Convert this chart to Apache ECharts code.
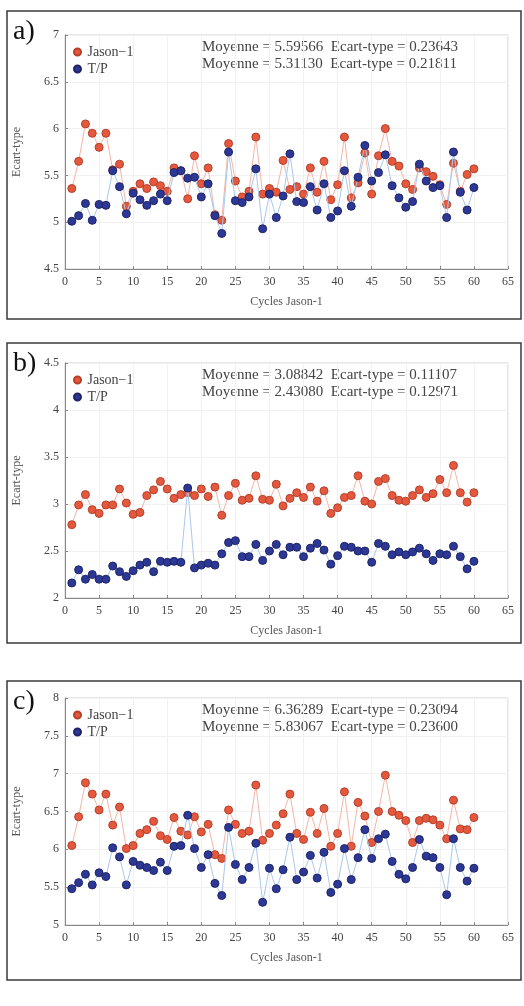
<!DOCTYPE html>
<html>
<head>
<meta charset="utf-8">
<script src="https://cdn.jsdelivr.net/npm/echarts@6/dist/echarts.min.js"></script>
<style>
html,body{margin:0;padding:0;background:#fff;}
#c{width:524px;height:1006px;}
</style>
</head>
<body>
<div id="c"></div>
<script>
var cycles = [1,2,3,4,5,6,7,8,9,10,11,12,13,14,15,16,17,18,19,20,21,22,23,24,25,26,27,28,29,30,31,32,33,34,35,36,37,38,39,40,41,42,43,44,45,46,47,48,49,50,51,52,53,54,55,56,57,58,59,60];
var xTicks = [0,5,10,15,20,25,30,35,40,45,50,55,60,65];

// Panel a
var jasonA = [5.36,5.65,6.05,5.95,5.80,5.95,5.56,5.62,5.17,5.33,5.41,5.36,5.43,5.39,5.33,5.58,5.55,5.25,5.71,5.41,5.58,5.08,5.02,5.84,5.44,5.27,5.33,5.91,5.30,5.36,5.32,5.66,5.35,5.38,5.30,5.58,5.32,5.65,5.24,5.40,5.91,5.26,5.42,5.74,5.30,5.71,6.00,5.65,5.60,5.41,5.35,5.58,5.54,5.49,5.40,5.19,5.63,5.33,5.51,5.57];
var tpA = [5.01,5.07,5.20,5.02,5.19,5.18,5.55,5.38,5.09,5.31,5.24,5.18,5.23,5.30,5.23,5.53,5.55,5.47,5.48,5.27,5.41,5.07,4.88,5.75,5.23,5.21,5.27,5.57,4.93,5.30,5.05,5.28,5.73,5.22,5.21,5.38,5.13,5.41,5.05,5.12,5.55,5.17,5.48,5.82,5.44,5.53,5.72,5.39,5.26,5.16,5.22,5.62,5.44,5.37,5.39,5.05,5.75,5.32,5.13,5.37];
var yTicksA = [4.5,5,5.5,6,6.5,7];

// Panel b
var jasonB = [2.78,2.99,3.10,2.94,2.90,2.99,2.99,3.16,3.01,2.89,2.91,3.09,3.15,3.24,3.16,3.06,3.10,3.12,3.09,3.16,3.08,3.18,2.88,3.09,3.22,3.04,3.06,3.30,3.05,3.04,3.21,2.98,3.06,3.12,3.07,3.18,3.03,3.14,2.90,2.96,3.07,3.09,3.30,3.03,3.00,3.24,3.27,3.09,3.04,3.03,3.09,3.15,3.07,3.11,3.26,3.12,3.41,3.12,3.02,3.12];
var tpB = [2.16,2.30,2.20,2.25,2.20,2.20,2.34,2.28,2.23,2.29,2.35,2.38,2.28,2.39,2.38,2.39,2.38,3.17,2.32,2.35,2.37,2.35,2.47,2.59,2.61,2.44,2.44,2.57,2.40,2.50,2.57,2.46,2.54,2.54,2.44,2.53,2.58,2.51,2.36,2.45,2.55,2.54,2.50,2.50,2.38,2.58,2.55,2.46,2.49,2.46,2.49,2.53,2.47,2.40,2.47,2.46,2.55,2.44,2.31,2.39];
var yTicksB = [2,2.5,3,3.5,4,4.5];

// Panel c
var jasonC = [6.05,6.43,6.88,6.73,6.52,6.73,6.32,6.56,6.01,6.05,6.21,6.26,6.37,6.18,6.13,6.42,6.24,6.19,6.43,6.23,6.33,5.93,5.88,6.52,6.33,6.21,6.24,6.85,6.12,6.21,6.32,6.47,6.73,6.21,6.13,6.49,6.21,6.54,6.04,6.21,6.76,6.04,6.62,6.44,6.09,6.50,6.98,6.50,6.45,6.38,6.09,6.38,6.41,6.39,6.32,6.14,6.65,6.27,6.26,6.42];
var tpC = [5.48,5.56,5.67,5.53,5.69,5.64,6.02,5.90,5.53,5.84,5.79,5.76,5.72,5.83,5.72,6.04,6.05,6.45,6.01,5.76,5.93,5.55,5.39,6.29,5.80,5.60,5.76,6.08,5.30,5.75,5.48,5.73,6.16,5.60,5.70,5.92,5.62,5.96,5.43,5.54,6.01,5.60,5.89,6.26,5.88,6.14,6.20,5.84,5.67,5.61,5.76,6.13,5.91,5.89,5.76,5.40,6.14,5.76,5.58,5.75];
var yTicksC = [5,5.5,6,6.5,7,7.5,8];

var panelLabels = ['a)','b)','c)'];
var statsJason = ['Moyenne = 5.59566  Ecart-type = 0.23643','Moyenne = 3.08842  Ecart-type = 0.11107','Moyenne = 6.36289  Ecart-type = 0.23094'];
var statsTP = ['Moyenne = 5.31130  Ecart-type = 0.21811','Moyenne = 2.43080  Ecart-type = 0.12971','Moyenne = 5.83067  Ecart-type = 0.23600'];
var xTitle = 'Cycles Jason-1';
var yTitle = 'Ecart-type';
var nameJason = 'Jason\u22121';
var nameTP = 'T/P';

var FONT = 'Liberation Serif';
var panels = [
  {jason: jasonA, tp: tpA, yt: yTicksA, box: [11, 319], grid: {top: 35, height: 234}},
  {jason: jasonB, tp: tpB, yt: yTicksB, box: [343, 643], grid: {top: 363, height: 235}},
  {jason: jasonC, tp: tpC, yt: yTicksC, box: [681, 980], grid: {top: 698, height: 227}}
];

function pairs(xs, ys){ return xs.map(function(x,i){ return [x, ys[i]]; }); }

var grids = [], xAxes = [], yAxes = [], series = [], graphics = [], legends = [];
panels.forEach(function(p, k){
  grids.push({left: 65, width: 443, top: p.grid.top, height: p.grid.height, show: true, borderColor: '#d0d0d0', borderWidth: 1, backgroundColor: 'transparent'});
  xAxes.push({type: 'value', gridIndex: k, min: xTicks[0], max: xTicks[xTicks.length-1], interval: 5,
    name: xTitle, nameLocation: 'middle', nameGap: 27,
    nameTextStyle: {fontFamily: FONT, fontSize: 12, color: '#555'},
    axisLine: {lineStyle: {color: '#888'}}, axisTick: {inside: true, length: 3, lineStyle: {color: '#888'}},
    axisLabel: {fontFamily: FONT, fontSize: 12, color: '#444', margin: 7},
    splitLine: {show: true, lineStyle: {color: '#f1f1f1'}}});
  yAxes.push({type: 'value', gridIndex: k, min: p.yt[0], max: p.yt[p.yt.length-1], interval: 0.5,
    name: yTitle, nameLocation: 'middle', nameGap: 42,
    nameTextStyle: {fontFamily: FONT, fontSize: 12, color: '#555'},
    axisLine: {show: true, lineStyle: {color: '#888'}}, axisTick: {show: true, inside: true, length: 3, lineStyle: {color: '#888'}},
    axisLabel: {fontFamily: FONT, fontSize: 12, color: '#444', margin: 6},
    splitLine: {show: true, lineStyle: {color: '#f1f1f1'}}});
  series.push({name: nameJason, type: 'line', xAxisIndex: k, yAxisIndex: k, data: pairs(cycles, p.jason),
    symbol: 'circle', symbolSize: 8, lineStyle: {color: '#f5b5a6', width: 1},
    itemStyle: {color: '#e4583d', borderColor: '#b5412c', borderWidth: 1}, z: 3, animation: false});
  series.push({name: nameTP, type: 'line', xAxisIndex: k, yAxisIndex: k, data: pairs(cycles, p.tp),
    symbol: 'circle', symbolSize: 8, lineStyle: {color: '#a9c8ec', width: 1},
    itemStyle: {color: '#2d3896', borderColor: '#1e2566', borderWidth: 1}, z: 4, animation: false});
  legends.push({data: [nameJason, nameTP], orient: 'vertical', left: 68, top: p.grid.top + 5, itemGap: 3,
    itemWidth: 10, itemHeight: 7, icon: 'circle', selectedMode: false,
    textStyle: {fontFamily: FONT, fontSize: 14, color: '#444'}});
  graphics.push({type: 'rect', shape: {x: 7, y: p.box[0], width: 514, height: p.box[1]-p.box[0]},
    style: {fill: 'none', stroke: '#3a3a3a', lineWidth: 1.5}, silent: true});
  graphics.push({type: 'text', left: 13, top: p.box[0] + 7,
    style: {text: panelLabels[k], font: '28px "' + FONT + '"', fill: '#111'}});
  graphics.push({type: 'text', left: 202, top: p.grid.top + 5,
    style: {text: statsJason[k], font: '15px "' + FONT + '"', fill: '#444'}});
  graphics.push({type: 'text', left: 202, top: p.grid.top + 22,
    style: {text: statsTP[k], font: '15px "' + FONT + '"', fill: '#444'}});
});

var chart = echarts.init(document.getElementById('c'), null, {renderer: 'canvas'});
chart.setOption({
  animation: false,
  backgroundColor: '#fff',
  grid: grids, xAxis: xAxes, yAxis: yAxes, series: series, legend: legends, graphic: graphics
});
</script>
</body>
</html>
